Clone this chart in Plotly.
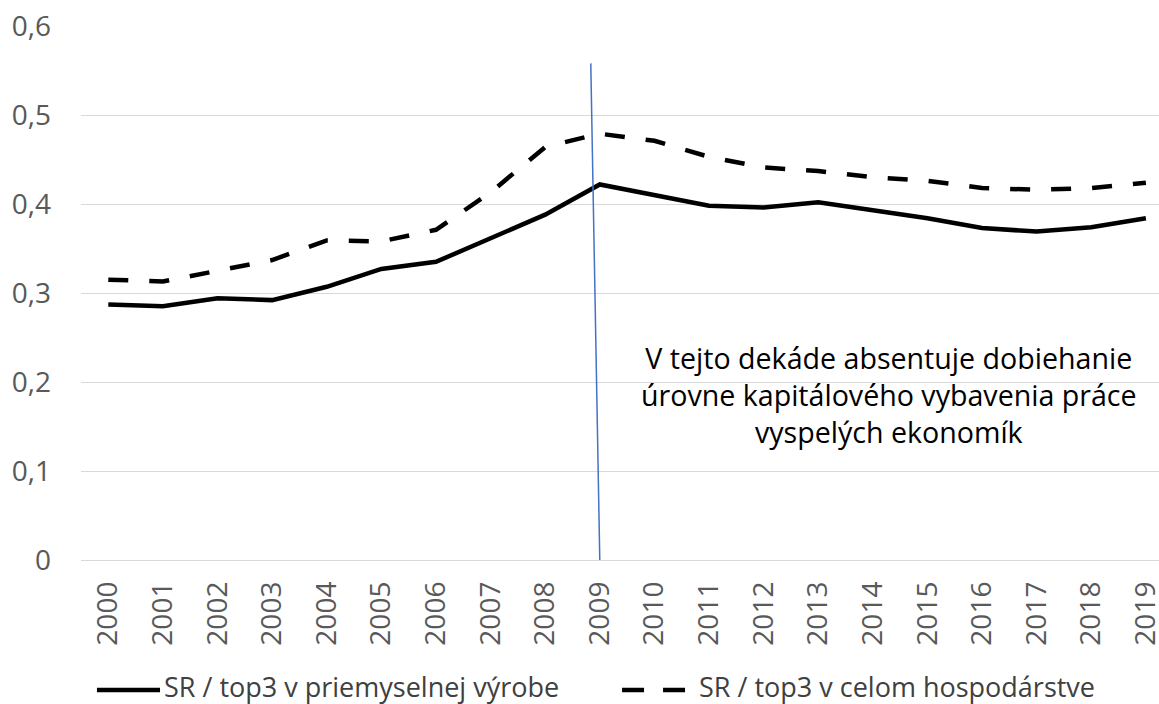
import plotly.graph_objects as go

years = list(range(2000, 2020))
industry = [0.287, 0.285, 0.294, 0.292, 0.307, 0.327, 0.335, 0.361, 0.388, 0.422,
            0.410, 0.398, 0.396, 0.402, 0.393, 0.384, 0.373, 0.369, 0.374, 0.384]
economy = [0.315, 0.313, 0.325, 0.337, 0.359, 0.358, 0.371, 0.413, 0.464, 0.479,
           0.471, 0.453, 0.441, 0.437, 0.430, 0.426, 0.418, 0.416, 0.418, 0.424]
series_names = ["SR / top3 v priemyselnej výrobe", "SR / top3 v celom hospodárstve"]
y_ticks = [0, 0.1, 0.2, 0.3, 0.4, 0.5, 0.6]
note_text = "V tejto dekáde absentuje dobiehanie<br>úrovne kapitálového vybavenia práce<br>vyspelých ekonomík"

FONT = "Open Sans"
fig = go.Figure()
fig.add_trace(go.Scatter(x=years, y=industry, mode="lines", name=series_names[0],
                         line=dict(color="black", width=4.5), showlegend=False))
fig.add_trace(go.Scatter(x=years, y=economy, mode="lines", name=series_names[1],
                         line=dict(color="black", width=4.5, dash="20px,21px"), showlegend=False))

# vertical marker line at 2009
fig.add_shape(type="line", xref="x", yref="y", x0=2009, y0=0, x1=2008.835, y1=0.558,
              line=dict(color="#4472C4", width=1.5))

fig.add_annotation(x=2014.3, y=0.186, xref="x", yref="y", text=note_text, showarrow=False,
                   align="center", xanchor="center", yanchor="middle",
                   font=dict(family=FONT, size=28.6, color="black"))

# manual legend (line samples as in the reference)
ly_line = -0.2434
ly_text = -0.2378
fig.add_shape(type="line", xref="paper", yref="paper", x0=0.0148, x1=0.0733,
              y0=ly_line, y1=ly_line, line=dict(color="black", width=4.5))
fig.add_annotation(x=0.0751, y=ly_text, xref="paper", yref="paper", text=series_names[0],
                   showarrow=False, xanchor="left", yanchor="middle",
                   font=dict(family=FONT, size=27, color="#404040"))
fig.add_shape(type="line", xref="paper", yref="paper", x0=0.5019, x1=0.5622,
              y0=ly_line, y1=ly_line, line=dict(color="black", width=4.5, dash="22px,19px"))
fig.add_annotation(x=0.5714, y=ly_text, xref="paper", yref="paper", text=series_names[1],
                   showarrow=False, xanchor="left", yanchor="middle",
                   font=dict(family=FONT, size=27, color="#404040"))

fig.update_layout(
    width=1159, height=704,
    margin=dict(l=81, r=0, t=26, b=144),
    paper_bgcolor="white", plot_bgcolor="white",
    separators=", ",
    font=dict(family=FONT, size=27, color="#595959"),
)
fig.update_xaxes(range=[1999.5, 2019.24], tickmode="array", tickvals=years,
                 ticktext=[str(y) for y in years], tickangle=-90,
                 showgrid=False, zeroline=False, showline=False, automargin=False,
                 ticks="", ticklabelstandoff=15, ticklabeloverflow="allow",
                 tickfont=dict(family=FONT, size=28, color="#595959"))
fig.update_yaxes(range=[0, 0.6], tickmode="array", tickvals=y_ticks,
                 showgrid=True, gridcolor="#D9D9D9", gridwidth=1.3,
                 zeroline=True, zerolinecolor="#D9D9D9", zerolinewidth=1.3,
                 showline=False, ticks="", ticklabelstandoff=29, automargin=False,
                 ticklabeloverflow="allow",
                 tickfont=dict(family=FONT, size=28, color="#595959"))

# remove the default 8px page margin so the figure fills the window exactly
fig.write_html("out.html", config={"displayModeBar": False},
               post_script="document.body.style.margin='0px';")
